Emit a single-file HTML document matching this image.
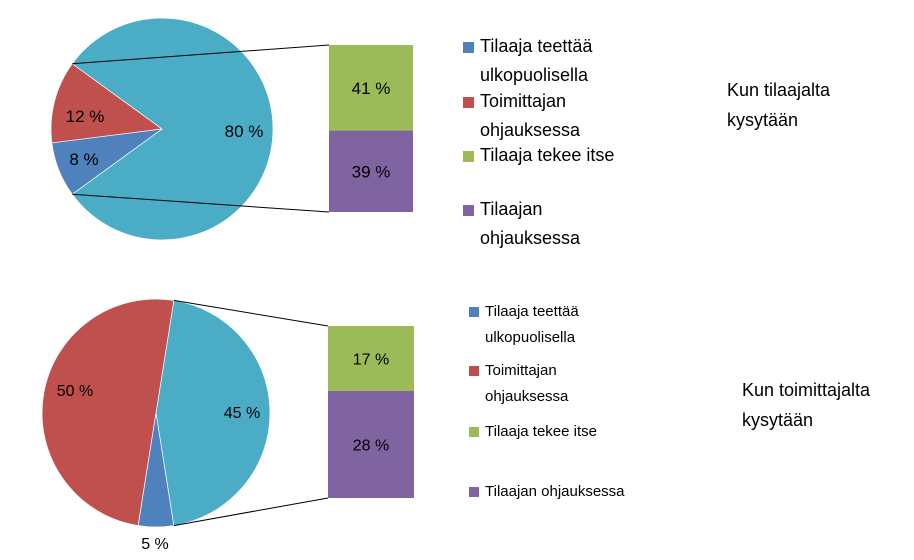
<!DOCTYPE html>
<html><head><meta charset="utf-8"><style>
body{margin:0;background:#fff;width:914px;height:555px;overflow:hidden;font-family:"Liberation Sans",sans-serif}
</style></head><body>
<svg id="c" width="914" height="555" xmlns="http://www.w3.org/2000/svg" font-family="Liberation Sans, sans-serif"></svg>
<script>
const categories=["Tilaaja teettää ulkopuolisella","Toimittajan ohjauksessa","Tilaaja tekee itse","Tilaajan ohjauksessa"];
const topPie=[8,12,80];
const topBar=[41,39];
const botPie=[5,50,45];
const botBar=[17,28];
const colors=["#4f81bd","#c0504d","#4bacc6","#9bbb59","#8064a2"];
const svg=document.getElementById('c');
const NS="http://www.w3.org/2000/svg";
function mk(t,a,name){const e=document.createElementNS(NS,t);for(const k in a)e.setAttribute(k,a[k]);


svg.appendChild(e);return e;}
function txt(x,y,s,size,name,anchor){const e=mk('text',{x:x,y:y,'font-size':size,fill:'#000','text-anchor':anchor||'middle'},name);e.textContent=s;return e;}
function pt(cx,cy,r,deg){const a=deg*Math.PI/180;return [cx+r*Math.cos(a),cy-r*Math.sin(a)];}
function chart(cx,cy,r,pie,bar,bx,bw,by,bh,labels,pre,fs){
  const other=pie[2];const otherDeg=other/100*360;
  // other slice centered at east
  let start=-otherDeg/2,end=otherDeg/2;
  const slices=[[pie[2],2,start,end],[pie[1],1,end,end+pie[1]*3.6],[pie[0],0,end+pie[1]*3.6,end+(pie[1]+pie[0])*3.6]];
  slices.forEach(([v,ci,a0,a1],i)=>{
    const p0=pt(cx,cy,r,a0),p1=pt(cx,cy,r,a1);const large=(a1-a0)>180?1:0;
    mk('path',{d:`M${cx},${cy}L${p0[0]},${p0[1]}A${r},${r} 0 ${large} 0 ${p1[0]},${p1[1]}Z`,fill:colors[ci],stroke:'#fff','stroke-width':0.7},pre+'-slice-'+i);
  });
  const tot=bar[0]+bar[1];const h0=bar[0]/tot*bh;
  mk('rect',{x:bx,y:by,width:bw,height:h0,fill:colors[3]},pre+'-bar-green');
  mk('rect',{x:bx,y:by+h0,width:bw,height:bh-h0,fill:colors[4]},pre+'-bar-purple');
  const t=pt(cx,cy,r,end),b=pt(cx,cy,r,start);
  mk('line',{x1:t[0],y1:t[1],x2:bx,y2:by,stroke:'#000','stroke-width':1},pre+'-connector-top');
  mk('line',{x1:b[0],y1:b[1],x2:bx,y2:by+bh,stroke:'#000','stroke-width':1},pre+'-connector-bottom');
  labels.forEach(l=>txt(l[0],l[1],l[2],fs,pre+'-label'));
  txt(bx+bw/2,by+h0/2+6,bar[0]+' %',fs,pre+'-bar-label-1');
  txt(bx+bw/2,by+h0+(bh-h0)/2+6,bar[1]+' %',fs,pre+'-bar-label-2');
}
chart(162,129,111,topPie,topBar,329,84,45,167,[[244,137,topPie[2]+' %'],[85,122,topPie[1]+' %'],[84,165,topPie[0]+' %']],'top',17);
chart(156,413,114,botPie,botBar,328,86,326,172,[[242,418,botPie[2]+' %'],[75,396,botPie[1]+' %'],[155,549,botPie[0]+' %']],'bottom',16);
// legends
function legend(x,items,fs,sq,pre){
  items.forEach((it,i)=>{
    mk('rect',{x:x,y:it[0]-sq+1,width:sq,height:sq,fill:[colors[0],colors[1],colors[3],colors[4]][i]},pre+'-legend-swatch');
    it[1].forEach((line,j)=>txt(x+sq+6,it[0]+j*(fs+11),line,fs,pre+'-legend-entry','start'));
  });
}
legend(463,[[52,["Tilaaja teettää","ulkopuolisella"]],[107,["Toimittajan","ohjauksessa"]],[161,["Tilaaja tekee itse"]],[215,["Tilaajan","ohjauksessa"]]],18,11,'top');
legend(469,[[316,["Tilaaja teettää","ulkopuolisella"]],[375,["Toimittajan","ohjauksessa"]],[436,["Tilaaja tekee itse"]],[496,["Tilaajan ohjauksessa"]]],15,10,'bottom');
txt(727,96,"Kun tilaajalta",18,'top-title','start');
txt(727,126,"kysytään",18,'top-title','start');
txt(742,396,"Kun toimittajalta",18,'bottom-title','start');
txt(742,426,"kysytään",18,'bottom-title','start');
</script>
</body></html>
